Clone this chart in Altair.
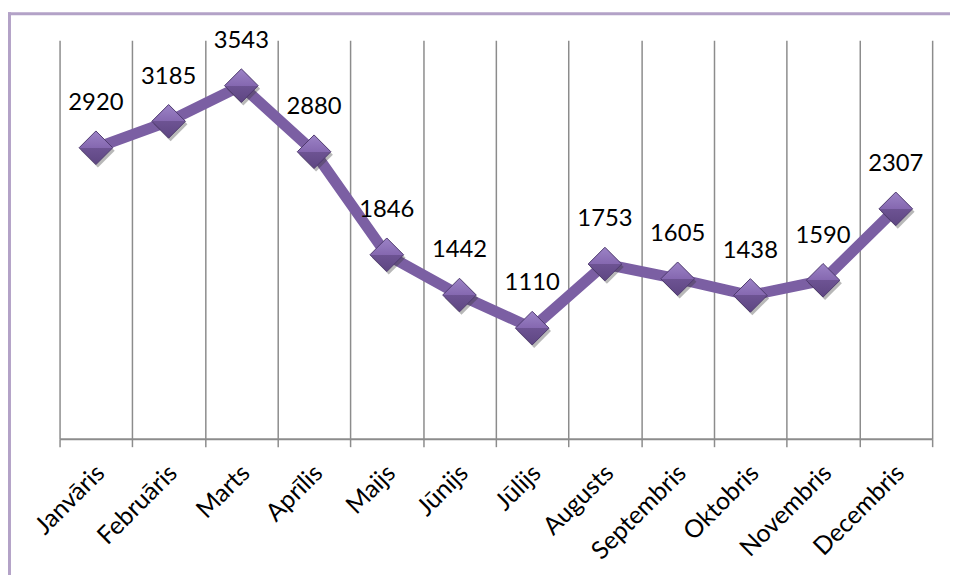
import altair as alt
import pandas as pd

months = ["Janvāris", "Februāris", "Marts", "Aprīlis", "Maijs", "Jūnijs",
          "Jūlijs", "Augusts", "Septembris", "Oktobris", "Novembris", "Decembris"]
calls = [2920, 3185, 3543, 2880, 1846, 1442, 1110, 1753, 1605, 1438, 1590, 2307]

df = pd.DataFrame({"month": months, "calls": calls})

FONT = "Lato"
xscale = alt.Scale(domain=months, paddingInner=0, paddingOuter=0)
yscale = alt.Scale(domain=[0, 4000], nice=False)

xaxis = alt.Axis(labelAngle=-45, labelAlign="right", labelBaseline="middle",
                 labelFont=FONT, labelFontSize=25, labelColor="black",
                 labelPadding=22, labelOffset=4, labelLimit=300, tickBand="extent", grid=True,
                 gridColor="#8C8C8C", gridWidth=1.5,
                 domainColor="#8C8C8C", domainWidth=2,
                 tickColor="#8C8C8C", tickWidth=1.5, tickSize=8)

X = alt.X("month:N", scale=xscale, sort=months, title=None, axis=xaxis)
Y = alt.Y("calls:Q", scale=yscale, axis=None)

base = alt.Chart(df)

line = base.mark_line(color="#7B5FA3", strokeWidth=11, strokeJoin="round").encode(x=X, y=Y)

shadow = base.mark_point(shape="diamond", size=1150, filled=True, color="#333333",
                         opacity=0.35, xOffset=2, yOffset=3).encode(x=X, y=Y)

grad = alt.LinearGradient(
    gradient="linear", x1=0, y1=0, x2=0, y2=1,
    stops=[alt.GradientStop(color="#9C83C6", offset=0),
           alt.GradientStop(color="#8568B0", offset=0.5),
           alt.GradientStop(color="#6D5393", offset=0.5),
           alt.GradientStop(color="#5E4682", offset=1)],
)
points = base.mark_point(shape="diamond", size=1150, filled=True, fill=grad,
                         stroke="#4E3A6E", strokeWidth=1, opacity=1).encode(x=X, y=Y)

labels = base.mark_text(font=FONT, fontSize=24, color="black", dy=-45,
                        baseline="middle", align="center").encode(
    x=X, y=Y, text=alt.Text("calls:Q", format="d"))

frame = pd.DataFrame({"k": [0]})
top_border = alt.Chart(frame).mark_rule(color="#B3A2C7", strokeWidth=3).encode(
    x=alt.value(-52), x2=alt.value(898), y=alt.value(-26.5))
left_border = alt.Chart(frame).mark_rule(color="#B3A2C7", strokeWidth=3).encode(
    x=alt.value(-50.5), y=alt.value(-28), y2=alt.value(540))

chart = alt.layer(line, shadow, points, labels, top_border, left_border).properties(
    width=880, height=402,
    autosize=alt.AutoSizeParams(type="none"),
    padding={"left": 52, "top": 30, "right": 18, "bottom": 135},
).configure_view(stroke=None)

chart.save("out.html", embed_options={"renderer": "svg", "actions": False})
